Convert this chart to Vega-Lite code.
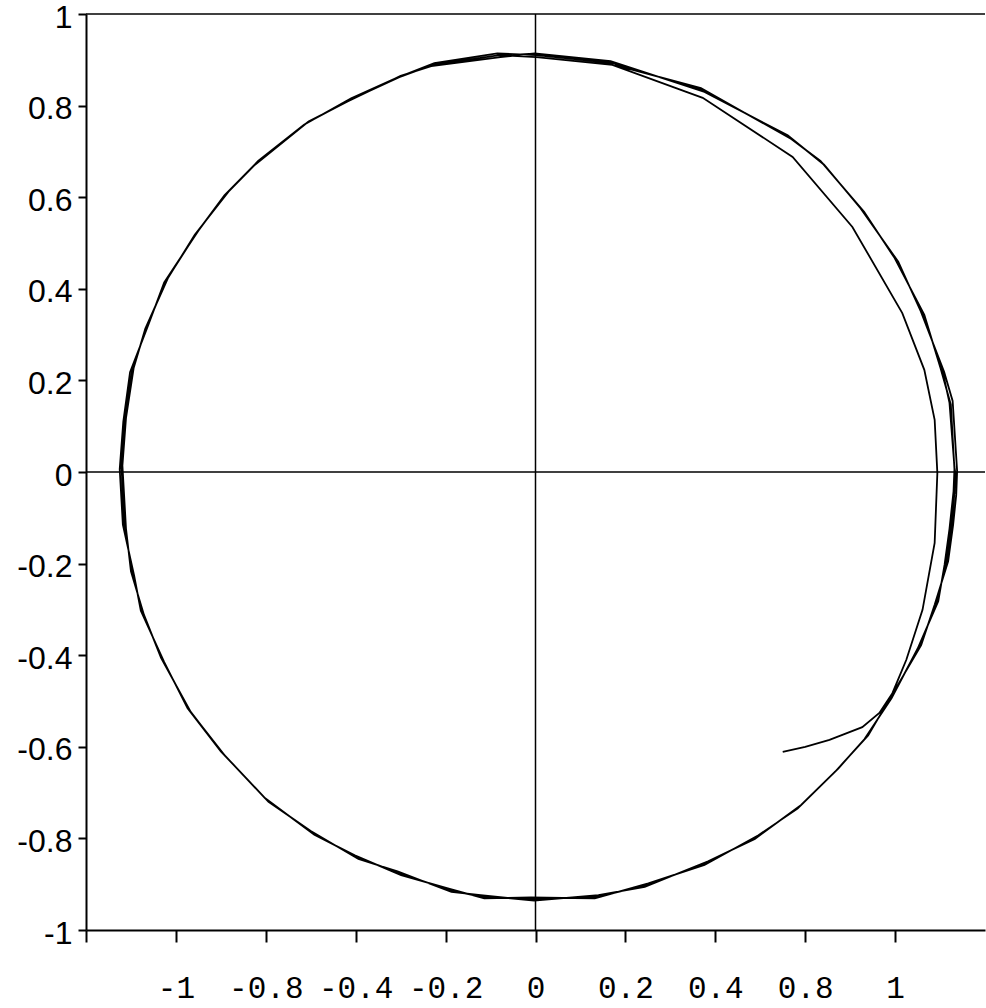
{
  "$schema": "https://vega.github.io/schema/vega-lite/v6.json",
  "width": 899,
  "height": 916,
  "autosize": {"type": "none"},
  "padding": {"left": 86, "top": 14, "right": 1, "bottom": 78},
  "background": "white",
  "config": {
    "view": {"stroke": null},
    "axis": {"grid": false, "domainColor": "black", "tickColor": "black", "labelColor": "black", "domainWidth": 2, "tickWidth": 2}
  },
  "datasets": {
    "traj": [
      {"t":0,"x":0.550,"y":-0.611},{"t":1,"x":0.600,"y":-0.600},{"t":2,"x":0.654,"y":-0.585},{"t":3,"x":0.727,"y":-0.557},{"t":4,"x":0.765,"y":-0.526},{"t":5,"x":0.794,"y":-0.483},
      {"t":6,"x":0.825,"y":-0.410},{"t":7,"x":0.861,"y":-0.301},{"t":8,"x":0.888,"y":-0.155},{"t":9,"x":0.894,"y":-0.002},{"t":10,"x":0.888,"y":0.114},{"t":11,"x":0.865,"y":0.223},{"t":12,"x":0.816,"y":0.347},{"t":13,"x":0.705,"y":0.535},{"t":14,"x":0.572,"y":0.688},{"t":15,"x":0.372,"y":0.817},{"t":16,"x":0.171,"y":0.889},{"t":17,"x":0.002,"y":0.906},
      {"t":18,"x":-0.080,"y":0.910},{"t":19,"x":-0.229,"y":0.889},{"t":20,"x":-0.303,"y":0.862},{"t":21,"x":-0.414,"y":0.812},{"t":22,"x":-0.509,"y":0.762},{"t":23,"x":-0.621,"y":0.675},{"t":24,"x":-0.687,"y":0.609},{"t":25,"x":-0.754,"y":0.522},{"t":26,"x":-0.821,"y":0.419},{"t":27,"x":-0.865,"y":0.317},{"t":28,"x":-0.897,"y":0.223},{"t":29,"x":-0.914,"y":0.114},{"t":30,"x":-0.921,"y":0.011},{"t":31,"x":-0.914,"y":-0.120},{"t":32,"x":-0.897,"y":-0.221},{"t":33,"x":-0.874,"y":-0.308},{"t":34,"x":-0.830,"y":-0.410},{"t":35,"x":-0.770,"y":-0.520},{"t":36,"x":-0.696,"y":-0.614},{"t":37,"x":-0.598,"y":-0.716},{"t":38,"x":-0.496,"y":-0.788},{"t":39,"x":-0.398,"y":-0.841},{"t":40,"x":-0.303,"y":-0.876},{"t":41,"x":-0.191,"y":-0.913},{"t":42,"x":-0.118,"y":-0.928},{"t":43,"x":-0.007,"y":-0.932},{"t":44,"x":0.136,"y":-0.928},{"t":45,"x":0.247,"y":-0.902},{"t":46,"x":0.380,"y":-0.854},{"t":47,"x":0.492,"y":-0.797},{"t":48,"x":0.587,"y":-0.731},{"t":49,"x":0.670,"y":-0.651},{"t":50,"x":0.736,"y":-0.579},{"t":51,"x":0.788,"y":-0.498},{"t":52,"x":0.854,"y":-0.382},{"t":53,"x":0.892,"y":-0.286},{"t":54,"x":0.914,"y":-0.199},{"t":55,"x":0.925,"y":-0.120},{"t":56,"x":0.932,"y":-0.046},{"t":57,"x":0.934,"y":-0.002},{"t":58,"x":0.932,"y":0.011},{"t":59,"x":0.921,"y":0.151},{"t":60,"x":0.905,"y":0.223},{"t":61,"x":0.861,"y":0.347},{"t":62,"x":0.803,"y":0.463},{"t":63,"x":0.727,"y":0.572},{"t":64,"x":0.638,"y":0.675},{"t":65,"x":0.565,"y":0.731},{"t":66,"x":0.372,"y":0.834},{"t":67,"x":0.171,"y":0.893},{"t":68,"x":0.002,"y":0.910},
      {"t":69,"x":-0.085,"y":0.914},{"t":70,"x":-0.225,"y":0.893},{"t":71,"x":-0.310,"y":0.860},{"t":72,"x":-0.410,"y":0.816},{"t":73,"x":-0.515,"y":0.758},{"t":74,"x":-0.617,"y":0.679},{"t":75,"x":-0.692,"y":0.604},{"t":76,"x":-0.750,"y":0.527},{"t":77,"x":-0.826,"y":0.414},{"t":78,"x":-0.861,"y":0.322},{"t":79,"x":-0.902,"y":0.218},{"t":80,"x":-0.917,"y":0.110},{"t":81,"x":-0.925,"y":0.006},{"t":82,"x":-0.918,"y":-0.115},{"t":83,"x":-0.893,"y":-0.226},{"t":84,"x":-0.878,"y":-0.303},{"t":85,"x":-0.826,"y":-0.415},{"t":86,"x":-0.774,"y":-0.516},{"t":87,"x":-0.700,"y":-0.610},{"t":88,"x":-0.594,"y":-0.720},{"t":89,"x":-0.500,"y":-0.784},{"t":90,"x":-0.394,"y":-0.845},{"t":91,"x":-0.307,"y":-0.872},{"t":92,"x":-0.187,"y":-0.917},{"t":93,"x":-0.122,"y":-0.924},{"t":94,"x":-0.003,"y":-0.936},{"t":95,"x":0.140,"y":-0.924},{"t":96,"x":0.243,"y":-0.906},{"t":97,"x":0.384,"y":-0.850},{"t":98,"x":0.488,"y":-0.801},{"t":99,"x":0.591,"y":-0.727},{"t":100,"x":0.666,"y":-0.655},{"t":101,"x":0.740,"y":-0.575},{"t":102,"x":0.784,"y":-0.502},{"t":103,"x":0.858,"y":-0.378},{"t":104,"x":0.888,"y":-0.290},{"t":105,"x":0.918,"y":-0.195},{"t":106,"x":0.929,"y":-0.116},{"t":107,"x":0.936,"y":-0.050},{"t":108,"x":0.938,"y":0.002},{"t":109,"x":0.928,"y":0.155},{"t":110,"x":0.909,"y":0.219},{"t":111,"x":0.857,"y":0.351},{"t":112,"x":0.807,"y":0.459},{"t":113,"x":0.723,"y":0.576},{"t":114,"x":0.642,"y":0.671},{"t":115,"x":0.561,"y":0.735},{"t":116,"x":0.376,"y":0.830},{"t":117,"x":0.167,"y":0.897},{"t":118,"x":-0.002,"y":0.914},
      {"t":119,"x":-0.078,"y":0.906},{"t":120,"x":-0.232,"y":0.886},{"t":121,"x":-0.300,"y":0.865},{"t":122,"x":-0.418,"y":0.809},{"t":123,"x":-0.505,"y":0.765},{"t":124,"x":-0.624,"y":0.671},{"t":125,"x":-0.683,"y":0.612},{"t":126,"x":-0.758,"y":0.518},{"t":127,"x":-0.818,"y":0.423},{"t":128,"x":-0.868,"y":0.313},{"t":129,"x":-0.894,"y":0.227},{"t":130,"x":-0.911,"y":0.118},{"t":131,"x":-0.919,"y":0.014},{"t":132,"x":-0.911,"y":-0.124},{"t":133,"x":-0.900,"y":-0.217},{"t":134,"x":-0.871,"y":-0.312},{"t":135,"x":-0.833,"y":-0.406},{"t":136,"x":-0.767,"y":-0.524},{"t":137,"x":-0.692,"y":-0.618},{"t":138,"x":-0.602,"y":-0.712},{"t":139,"x":-0.492,"y":-0.792},{"t":140,"x":-0.402,"y":-0.837},{"t":141,"x":-0.299,"y":-0.880},{"t":142,"x":-0.195,"y":-0.909},{"t":143,"x":-0.114,"y":-0.931},{"t":144,"x":-0.010,"y":-0.929},{"t":145,"x":0.132,"y":-0.931},{"t":146,"x":0.251,"y":-0.898},{"t":147,"x":0.376,"y":-0.858},{"t":148,"x":0.496,"y":-0.793},{"t":149,"x":0.583,"y":-0.735},{"t":150,"x":0.674,"y":-0.647},{"t":151,"x":0.732,"y":-0.583},{"t":152,"x":0.792,"y":-0.494},{"t":153,"x":0.850,"y":-0.386},{"t":154,"x":0.896,"y":-0.282},{"t":155,"x":0.910,"y":-0.203},{"t":156,"x":0.921,"y":-0.124},{"t":157,"x":0.930,"y":-0.042},{"t":158,"x":0.932,"y":0.006},{"t":159,"x":0.924,"y":0.147},{"t":160,"x":0.901,"y":0.227},{"t":161,"x":0.865,"y":0.343},{"t":162,"x":0.799,"y":0.467},{"t":163,"x":0.731,"y":0.568},{"t":164,"x":0.634,"y":0.679},{"t":165,"x":0.569,"y":0.727},{"t":166,"x":0.368,"y":0.838},{"t":167,"x":0.175,"y":0.889}
    ],
    "vrules": [{"x": 0}],
    "hrules": [{"y": 0}, {"y": 1}]
  },
  "layer": [
    {
      "data": {"name": "hrules"},
      "mark": {"type": "rule", "color": "black", "strokeWidth": 1.5},
      "encoding": {
        "y": {"field": "y", "type": "quantitative", "scale": {"domain": [-1, 1], "nice": false, "zero": false}}
      }
    },
    {
      "data": {"name": "vrules"},
      "mark": {"type": "rule", "color": "black", "strokeWidth": 1.5},
      "encoding": {
        "x": {"field": "x", "type": "quantitative", "scale": {"domain": [-1, 1], "nice": false, "zero": false}}
      }
    },
    {
      "data": {"name": "traj"},
      "mark": {"type": "line", "color": "black", "strokeWidth": 1.8, "interpolate": "linear"},
      "encoding": {
        "order": {"field": "t", "type": "quantitative"},
        "x": {
          "field": "x", "type": "quantitative",
          "scale": {"domain": [-1, 1], "nice": false, "zero": false},
          "axis": {
            "title": null, "orient": "bottom",
            "values": [-1, -0.8, -0.6, -0.4, -0.2, 0, 0.2, 0.4, 0.6, 0.8],
            "labelExpr": "['', '-1', '-0.8', '-0.4', '-0.2', '0', '0.2', '0.4', '0.8', '1'][round(datum.value * 5) + 5]",
            "tickSize": 12, "labelPadding": 31, "labelFont": "Liberation Mono", "labelFontSize": 31,
            "labelAngle": 0, "labelFlush": false, "labelOverlap": false, "labelBound": false
          }
        },
        "y": {
          "field": "y", "type": "quantitative",
          "scale": {"domain": [-1, 1], "nice": false, "zero": false},
          "axis": {
            "title": null, "orient": "left",
            "values": [-1, -0.8, -0.6, -0.4, -0.2, 0, 0.2, 0.4, 0.6, 0.8, 1],
            "labelExpr": "['-1', '-0.8', '-0.6', '-0.4', '-0.2', '0', '0.2', '0.4', '0.6', '0.8', '1'][round(datum.value * 5) + 5]",
            "tickSize": 8, "labelPadding": 6, "labelOffset": 3, "labelFont": "Liberation Sans", "labelFontSize": 32,
            "labelFlush": false, "labelOverlap": false, "labelBound": false
          }
        }
      }
    }
  ]
}
